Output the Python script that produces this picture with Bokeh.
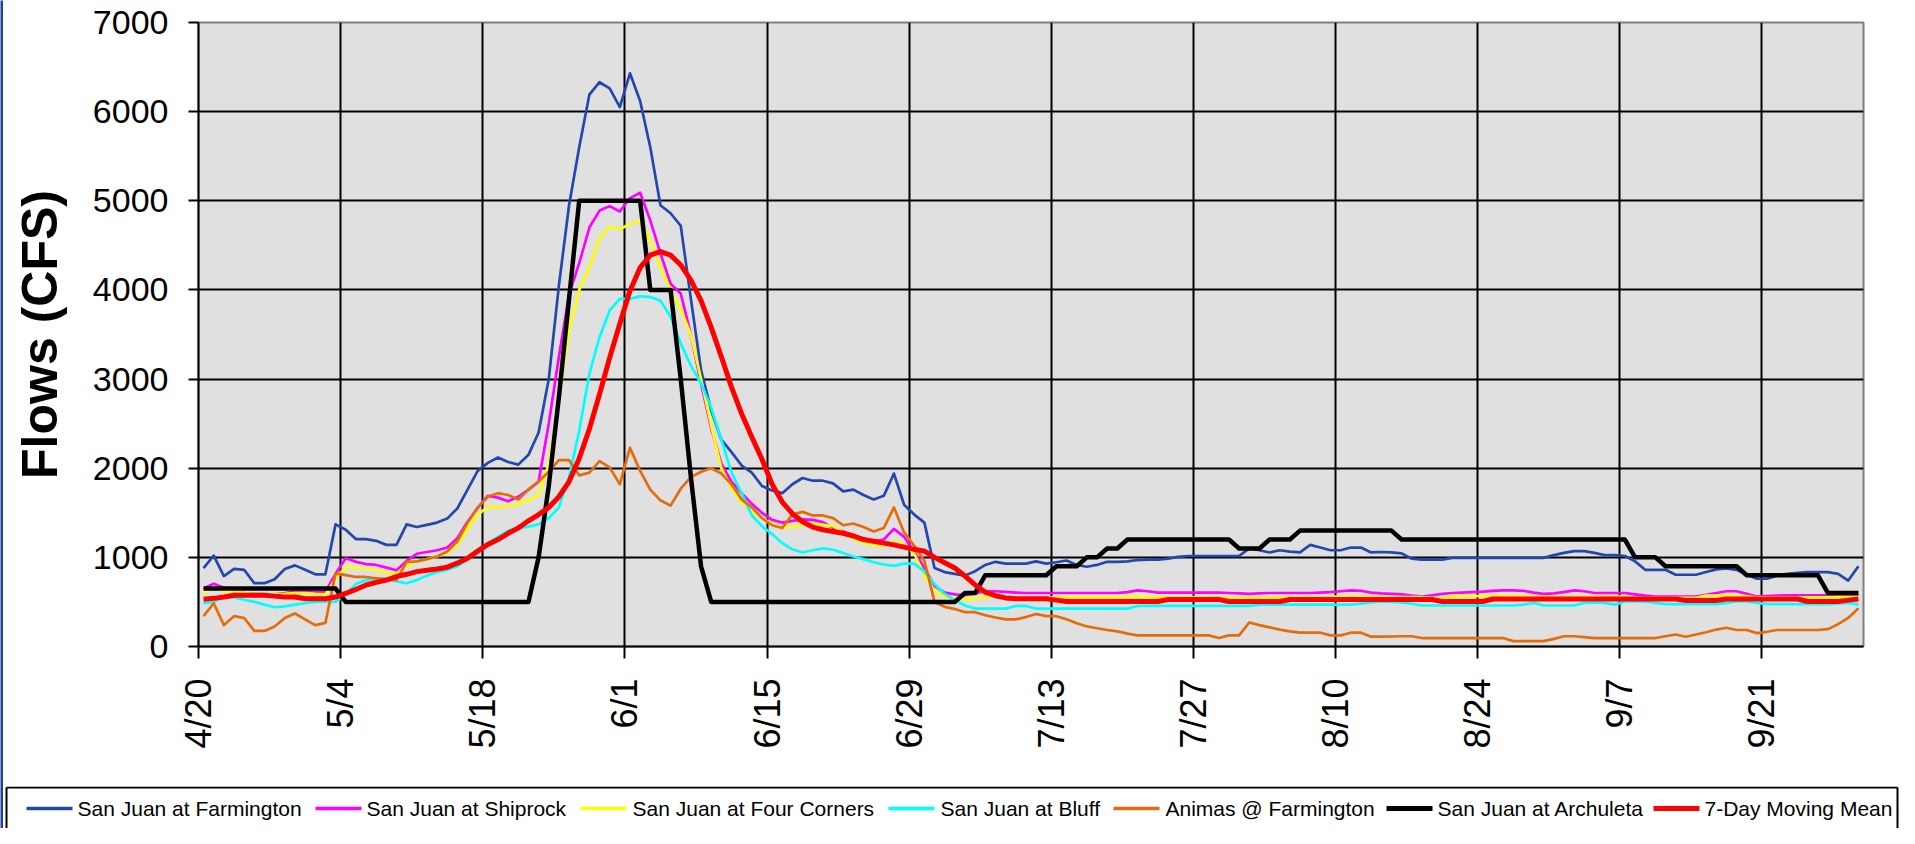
import math
from bokeh.plotting import figure
from bokeh.layouts import column, row
from bokeh.models import Range1d, FixedTicker
from bokeh.core.properties import value
from bokeh.embed import file_html
from bokeh.resources import INLINE

# ---- data (daily flows, CFS), day 0 = 4/20 ----
tick_days = [0, 14, 28, 42, 56, 70, 84, 98, 112, 126, 140, 154]
tick_labels = ["4/20", "5/4", "5/18", "6/1", "6/15", "6/29", "7/13",
               "7/27", "8/10", "8/24", "9/7", "9/21"]

farmington = [
    880, 1020, 790, 870, 860, 710, 710, 755, 870, 910,
    860, 810, 810, 1370, 1310, 1205, 1205, 1185, 1140, 1140,
    1370, 1340, 1365, 1390, 1435, 1550, 1760, 1970, 2060, 2120,
    2070, 2040, 2150, 2400, 3000, 4050, 4950, 5600, 6190, 6330,
    6260, 6050, 6430, 6120, 5600, 4950, 4860, 4720, 3900, 3100,
    2650, 2320, 2180, 2030, 1950, 1800, 1750, 1720, 1820, 1890,
    1860, 1860, 1830, 1740, 1760, 1700, 1650, 1690, 1940, 1590,
    1480, 1390, 880, 835, 815, 795, 845, 915, 950, 930,
    930, 930, 955, 930, 945, 965, 915, 895, 915, 950,
    950, 955, 970, 975, 975, 985, 1005, 1015, 1015, 1015,
    1015, 1015, 1015, 1100, 1080, 1055, 1080, 1065, 1055, 1140,
    1110, 1080, 1080, 1110, 1110, 1055, 1060, 1055, 1045, 985,
    975, 975, 975, 995, 995, 995, 995, 995, 995, 995,
    995, 995, 995, 1025, 1050, 1070, 1070, 1050, 1025, 1025,
    1015, 955, 860, 860, 860, 805, 805, 805, 835, 865,
    875, 860, 805, 760, 760, 795, 815, 825, 835, 835,
    835, 815, 740, 900]

shiprock = [
    650, 705, 660, 620, 600, 590, 585, 585, 600, 620,
    620, 615, 615, 815, 990, 950, 925, 915, 885, 855,
    960, 1040, 1060, 1080, 1110, 1215, 1400, 1555, 1690, 1670,
    1630, 1680, 1760, 1850, 2500, 3250, 3950, 4300, 4700, 4890,
    4940, 4880, 5030, 5090, 4780, 4410, 4070, 3960, 3500, 2950,
    2450, 2050, 1850, 1720, 1600, 1500, 1420, 1390, 1410, 1425,
    1420, 1395, 1330, 1290, 1240, 1190, 1180, 1200, 1320, 1230,
    1060, 880, 680, 605, 585, 575, 595, 620, 620, 612,
    605, 600, 600, 600, 600, 600, 600, 600, 600, 600,
    600, 610, 630, 620, 605, 605, 605, 605, 605, 605,
    605, 600, 595, 590, 595, 600, 600, 600, 600, 600,
    605, 610, 620, 630, 625, 605, 595, 590, 585, 570,
    560, 575, 590, 600, 605, 610, 615, 625, 630, 630,
    625, 605, 590, 595, 610, 630, 620, 600, 600, 600,
    600, 585, 570, 560, 560, 560, 560, 560, 580, 600,
    620, 620, 590, 560, 565, 570, 575, 575, 575, 575,
    575, 560, 570, 580]

four_corners = [
    600, 660, 620, 620, 600, 590, 585, 585, 590, 600,
    600, 590, 585, 760, 895, 885, 875, 855, 835, 815,
    910, 950, 980, 1010, 1050, 1145, 1320, 1475, 1570, 1560,
    1580, 1600, 1640, 1700, 2050, 2780, 3550, 4000, 4250, 4580,
    4710, 4680, 4740, 4770, 4560, 4250, 4000, 3780, 3500, 3000,
    2480, 2000, 1770, 1620, 1520, 1440, 1380, 1335, 1345, 1365,
    1380, 1365, 1350, 1280, 1210, 1165, 1140, 1125, 1175, 1150,
    1040, 800, 620, 560, 540, 525, 545, 560, 560, 555,
    550, 550, 550, 550, 550, 550, 550, 550, 550, 550,
    550, 560, 565, 555, 555, 555, 555, 555, 555, 555,
    555, 545, 545, 545, 545, 545, 550, 550, 550, 550,
    550, 560, 560, 560, 560, 560, 555, 555, 555, 555,
    555, 545, 540, 565, 565, 565, 565, 565, 565, 565,
    565, 560, 560, 560, 560, 560, 560, 560, 560, 560,
    560, 545, 545, 545, 545, 545, 545, 545, 570, 570,
    570, 565, 565, 550, 550, 550, 550, 550, 550, 550,
    550, 555, 555, 555]

bluff = [
    485, 500, 560, 550, 525, 500, 470, 440, 450, 470,
    485, 500, 505, 500, 585, 700, 745, 765, 760, 730,
    710, 745, 795, 835, 860, 900, 980, 1070, 1160, 1230,
    1300, 1325, 1345, 1370, 1440, 1560, 1900, 2420, 3060, 3470,
    3770, 3900, 3900, 3930, 3920, 3880, 3700, 3400, 3150, 2950,
    2680, 2320, 1950, 1720, 1470, 1350, 1260, 1160, 1090, 1055,
    1080, 1100, 1085, 1050, 1010, 980, 945, 920, 905, 930,
    930, 840, 700, 590, 520, 460, 425, 425, 425, 425,
    455, 455, 425, 425, 425, 425, 425, 425, 425, 425,
    425, 425, 455, 455, 455, 455, 455, 455, 455, 455,
    455, 455, 455, 455, 470, 470, 470, 470, 470, 470,
    470, 470, 470, 470, 480, 495, 505, 500, 495, 480,
    460, 460, 460, 460, 460, 460, 460, 460, 460, 460,
    470, 490, 460, 460, 460, 460, 490, 495, 490, 470,
    505, 505, 505, 490, 475, 475, 475, 475, 475, 475,
    490, 505, 505, 490, 475, 475, 475, 475, 475, 475,
    475, 480, 490, 470]

animas = [
    340, 485, 240, 340, 320, 175, 175, 225, 320, 370,
    305, 240, 265, 820, 800, 780, 780, 765, 755, 745,
    950, 955, 980, 1010, 1065, 1180, 1390, 1560, 1680, 1720,
    1700, 1650, 1760, 1850, 1960, 2090, 2090, 1920, 1950, 2080,
    2010, 1820, 2230, 1970, 1760, 1640, 1580, 1770, 1900, 1960,
    2000, 1940, 1820, 1650, 1560, 1440, 1360, 1330, 1480, 1510,
    1470, 1470, 1440, 1360, 1380, 1340, 1290, 1330, 1560, 1280,
    1130, 960, 500, 445, 420, 385, 385, 350, 325, 305,
    305, 330, 365, 340, 340, 305, 260, 225, 205, 185,
    170, 145, 125, 125, 125, 125, 125, 125, 125, 125,
    95, 125, 125, 270, 240, 215, 190, 170, 155, 155,
    155, 125, 125, 155, 155, 110, 110, 112, 115, 115,
    95, 95, 95, 95, 95, 95, 95, 95, 95, 60,
    60, 60, 60, 85, 115, 115, 105, 95, 95, 95,
    95, 95, 95, 95, 115, 135, 110, 135, 160, 190,
    210, 185, 185, 150, 165, 185, 185, 185, 185, 185,
    195, 250, 320, 430]

archuleta = [
    650, 650, 650, 650, 650, 650, 650, 650, 650, 650,
    650, 650, 650, 650, 500, 500, 500, 500, 500, 500,
    500, 500, 500, 500, 500, 500, 500, 500, 500, 500,
    500, 500, 500, 1000, 1800, 2800, 3900, 5000, 5000, 5000,
    5000, 5000, 5000, 5000, 4000, 4000, 4000, 3000, 1900, 900,
    500, 500, 500, 500, 500, 500, 500, 500, 500, 500,
    500, 500, 500, 500, 500, 500, 500, 500, 500, 500,
    500, 500, 500, 500, 500, 600, 600, 800, 800, 800,
    800, 800, 800, 800, 900, 900, 900, 1000, 1000, 1100,
    1100, 1200, 1200, 1200, 1200, 1200, 1200, 1200, 1200, 1200,
    1200, 1200, 1100, 1100, 1100, 1200, 1200, 1200, 1300, 1300,
    1300, 1300, 1300, 1300, 1300, 1300, 1300, 1300, 1200, 1200,
    1200, 1200, 1200, 1200, 1200, 1200, 1200, 1200, 1200, 1200,
    1200, 1200, 1200, 1200, 1200, 1200, 1200, 1200, 1200, 1200,
    1200, 1000, 1000, 1000, 900, 900, 900, 900, 900, 900,
    900, 900, 800, 800, 800, 800, 800, 800, 800, 800,
    600, 600, 600, 600]

moving_mean = [
    530, 540, 555, 575, 575, 575, 575, 565, 555, 555,
    535, 535, 535, 555, 595, 640, 690, 720, 745, 785,
    810, 840, 855, 870, 890, 935, 990, 1070, 1145, 1200,
    1270, 1330, 1410, 1480, 1560, 1680, 1850, 2110, 2440, 2830,
    3240, 3620, 3990, 4250, 4390, 4430, 4390, 4280, 4110, 3880,
    3580, 3250, 2910, 2610, 2350, 2100, 1820, 1620, 1490, 1400,
    1340, 1310, 1290, 1270, 1240, 1200, 1180, 1160, 1140, 1115,
    1090, 1070, 1000, 940, 880, 790, 690, 610, 570, 545,
    535, 535, 535, 535, 520, 505, 505, 505, 505, 505,
    505, 505, 505, 505, 505, 527, 527, 527, 527, 527,
    527, 505, 505, 505, 505, 505, 505, 527, 527, 527,
    527, 527, 527, 527, 527, 527, 527, 527, 527, 527,
    527, 527, 505, 505, 505, 505, 505, 533, 533, 533,
    533, 533, 533, 533, 533, 533, 533, 533, 533, 533,
    533, 533, 533, 533, 533, 533, 515, 515, 515, 515,
    533, 533, 533, 533, 533, 533, 533, 533, 505, 505,
    505, 505, 520, 533]

series_names = ["San Juan at Farmington", "San Juan at Shiprock",
                "San Juan at Four Corners", "San Juan at Bluff",
                "Animas @ Farmington", "San Juan at Archuleta",
                "7-Day Moving Mean"]
series_values = [farmington, shiprock, four_corners, bluff,
                 animas, archuleta, moving_mean]
series_colors = ["#2447AE", "#FF00FF", "#FFFF00", "#00FFFF",
                 "#E46C0A", "#000000", "#FF0000"]
series_widths = [2.7, 2.7, 2.7, 2.7, 2.7, 4.5, 5.0]
legend_widths = [3.5, 3.5, 3.5, 3.5, 3.5, 5.0, 5.0]

FONT = "Liberation Sans"
TOTAL_W = 1899
EDGE = 3                   # dark blue slide edge on the left
W = TOTAL_W - EDGE         # width of chart / legend column
MAIN_H = 786
LH = 42

# ---------------- slide edge ----------------
edge = figure(width=EDGE, height=MAIN_H + LH, output_backend="svg",
              toolbar_location=None, x_axis_location=None, y_axis_location=None,
              min_border_left=0, min_border_right=0,
              min_border_top=0, min_border_bottom=0)
edge.frame_align = False
edge.outline_line_color = None
edge.grid.visible = False
edge.background_fill_color = "#213F97"
edge.border_fill_color = "#213F97"

# ---------------- main chart ----------------
p = figure(width=W, height=MAIN_H, output_backend="svg", toolbar_location=None,
           x_range=Range1d(0, 164), y_range=Range1d(0, 7000),
           min_border_left=198 - EDGE, min_border_right=TOTAL_W - 1863,
           min_border_top=22, min_border_bottom=MAIN_H - 646)
p.frame_align = False
p.background_fill_color = "#E0E0E0"
p.border_fill_color = "white"
p.outline_line_color = "#808080"
p.outline_line_width = 2

p.yaxis.ticker = FixedTicker(ticks=[0, 1000, 2000, 3000, 4000, 5000, 6000, 7000])
p.xaxis.ticker = FixedTicker(ticks=tick_days)
p.xaxis.major_label_overrides = {d: s for d, s in zip(tick_days, tick_labels)}
p.xaxis.major_label_orientation = math.pi / 2

for ax in (p.xaxis, p.yaxis):
    ax.axis_line_color = "black"
    ax.axis_line_width = 2
    ax.major_tick_line_color = "black"
    ax.major_tick_line_width = 2
    ax.major_tick_in = 0
    ax.major_tick_out = 10
    ax.minor_tick_line_color = None
    ax.major_label_text_font = FONT
    ax.major_label_text_color = "black"
p.yaxis.major_label_text_font_size = "34px"
p.xaxis.major_label_text_font_size = "36px"
p.yaxis.major_label_standoff = 20
p.xaxis.major_label_standoff = 20
p.xaxis.major_tick_out = 12

p.yaxis.axis_label = "Flows (CFS)"
p.yaxis.axis_label_text_font = FONT
p.yaxis.axis_label_text_font_style = "bold"
p.yaxis.axis_label_text_font_size = "50px"
p.yaxis.axis_label_text_color = "black"
p.yaxis.axis_label_standoff = 22

for g in (p.xgrid, p.ygrid):
    g.grid_line_color = "black"
    g.grid_line_width = 2
p.xgrid.ticker = FixedTicker(ticks=tick_days)

x = [d + 0.5 for d in range(len(farmington))]
for vals, color, lw in zip(series_values, series_colors, series_widths):
    p.line(x, vals, line_color=color, line_width=lw, line_join="round")

# ---------------- legend strip (page x coordinates) ----------------
pl = figure(width=W, height=LH, output_backend="svg", toolbar_location=None,
            x_range=Range1d(EDGE, TOTAL_W), y_range=Range1d(0, LH),
            x_axis_location=None, y_axis_location=None,
            min_border_left=0, min_border_right=0,
            min_border_top=0, min_border_bottom=0)
pl.frame_align = False
pl.outline_line_color = None
pl.background_fill_color = "white"
pl.border_fill_color = "white"
pl.grid.visible = False

# legend frame (open at the bottom, like the cut-off reference box)
pl.segment(x0=[6, 6, TOTAL_W - 2], y0=[LH - 1, LH - 1, LH - 1],
           x1=[TOTAL_W - 2, 6, TOTAL_W - 2], y1=[LH - 1, -5, -5],
           line_color="black", line_width=2)

swatch_x = [26, 315, 580, 888, 1113, 1386, 1653]
label_x = [77, 366, 632, 940, 1165, 1437, 1704]
ymid = LH / 2 - 1
for sx, color, lw in zip(swatch_x, series_colors, legend_widths):
    pl.line([sx, sx + 46], [ymid, ymid], line_color=color, line_width=lw)
pl.text(x=label_x, y=[ymid] * len(label_x), text=series_names,
        text_font=value(FONT), text_font_size="21px", text_color="black",
        text_baseline="middle", text_align="left")

layout = row(edge, column(p, pl, spacing=0), spacing=0)
open("out.html", "w").write(file_html(layout, INLINE))
